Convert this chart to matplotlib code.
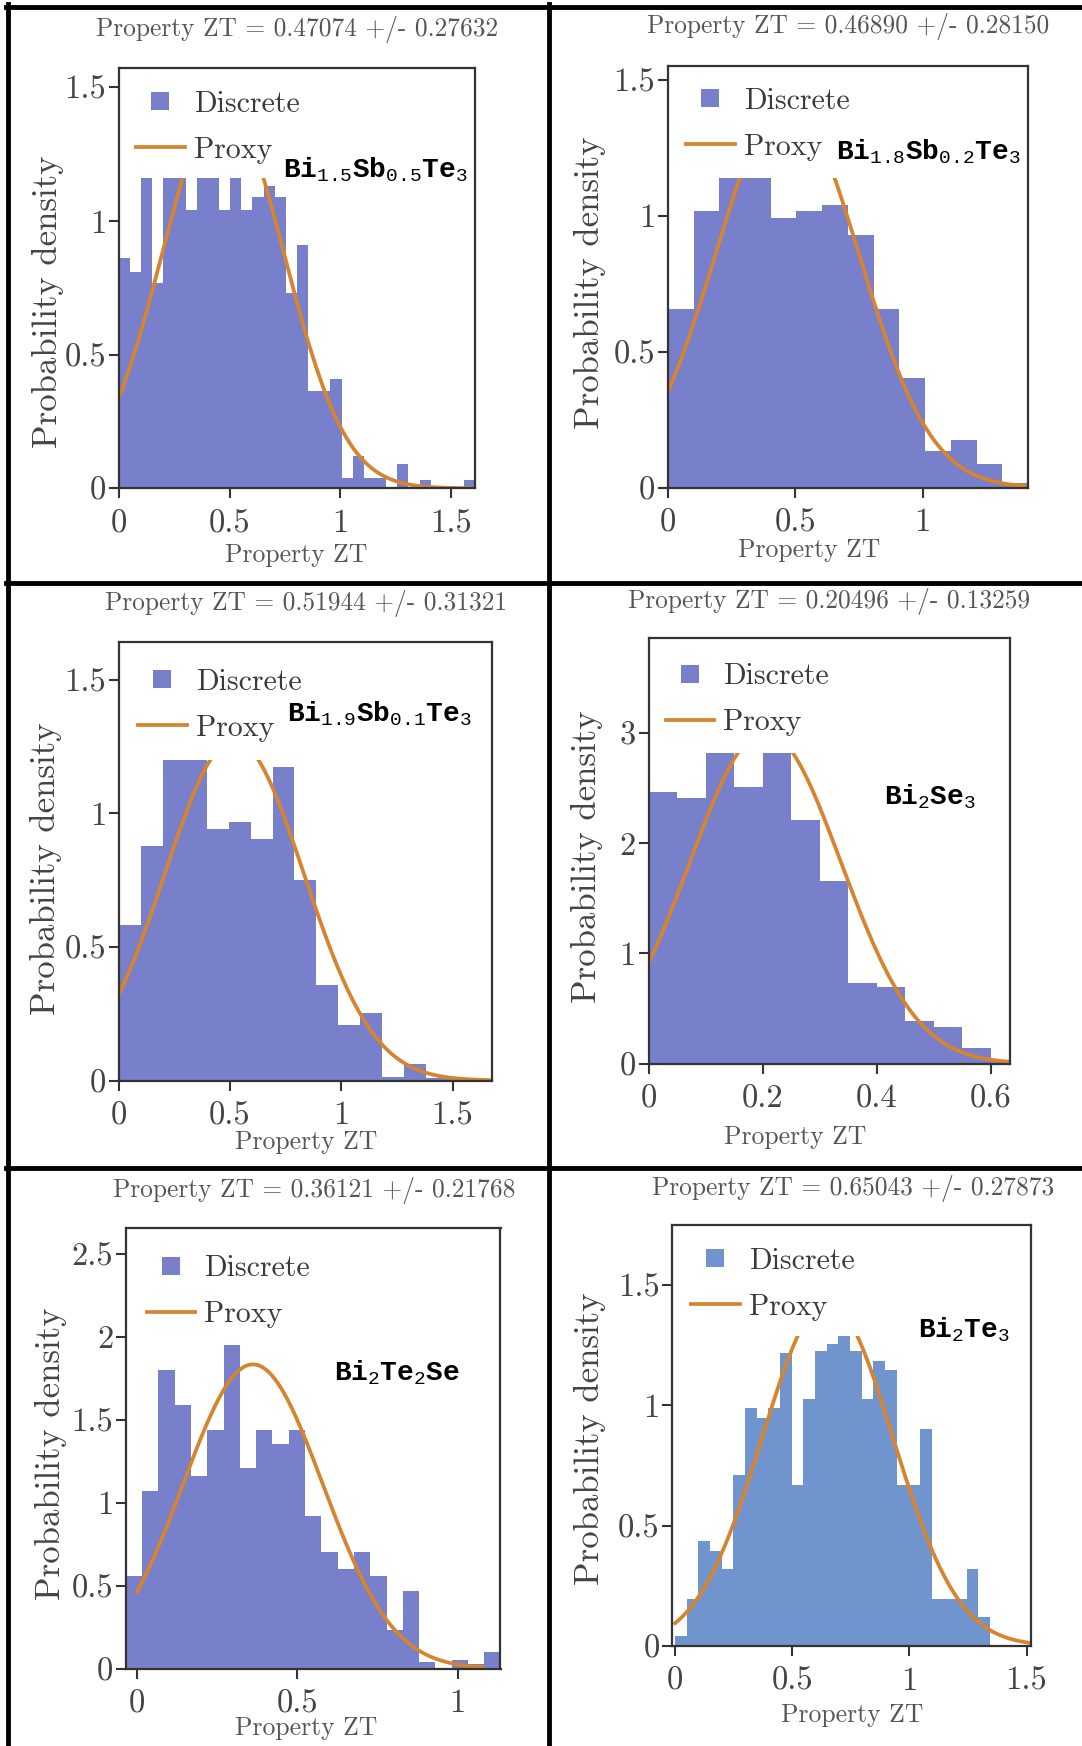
import numpy as np
import matplotlib
matplotlib.use("Agg")
import matplotlib.pyplot as plt
from matplotlib.lines import Line2D

plt.rcParams['font.family'] = ['cmr10', 'DejaVu Serif']
plt.rcParams['mathtext.fontset'] = 'custom'
plt.rcParams['mathtext.rm'] = 'Liberation Mono'
plt.rcParams['mathtext.it'] = 'Liberation Mono'
plt.rcParams['mathtext.bf'] = 'Liberation Mono:bold'
plt.rcParams['axes.unicode_minus'] = False

# ---------------- data ----------------
formulas = [
    r'$\mathbf{Bi}_{\mathrm{1.5}}\mathbf{Sb}_{\mathrm{0.5}}\mathbf{Te}_{\mathrm{3}}$',
    r'$\mathbf{Bi}_{\mathrm{1.8}}\mathbf{Sb}_{\mathrm{0.2}}\mathbf{Te}_{\mathrm{3}}$',
    r'$\mathbf{Bi}_{\mathrm{1.9}}\mathbf{Sb}_{\mathrm{0.1}}\mathbf{Te}_{\mathrm{3}}$',
    r'$\mathbf{Bi}_{\mathrm{2}}\mathbf{Se}_{\mathrm{3}}$',
    r'$\mathbf{Bi}_{\mathrm{2}}\mathbf{Te}_{\mathrm{2}}\mathbf{Se}$',
    r'$\mathbf{Bi}_{\mathrm{2}}\mathbf{Te}_{\mathrm{3}}$',
]
means = [0.47074, 0.46890, 0.51944, 0.20496, 0.36121, 0.65043]
stds = [0.27632, 0.28150, 0.31321, 0.13259, 0.21768, 0.27873]

bin_start = [0.0, 0.0, 0.0, 0.0, -0.035, 0.0]
bin_width = [0.0503, 0.101, 0.0987, 0.05, 0.0508, 0.0498]

hist1 = [0.86, 0.81, 1.25, 0.77, 1.25, 1.25, 1.04, 1.25, 1.25, 1.04, 1.25, 1.04,
         1.09, 1.13, 1.09, 0.73, 0.91, 0.365, 0.365, 0.41, 0.04, 0.12, 0.04, 0.04,
         0.0, 0.09, 0.0, 0.03, 0.0, 0.0, 0.0, 0.03]
hist2 = [0.657, 1.018, 1.25, 1.25, 0.991, 1.018, 1.041, 0.929, 0.656, 0.402,
         0.133, 0.174, 0.085, 0.016]
hist3 = [0.583, 0.879, 1.30, 1.30, 0.943, 0.967, 0.903, 1.173, 0.752, 0.357,
         0.209, 0.251, 0.014, 0.063, 0.008, 0.006, 0.004]
hist4 = [2.46, 2.41, 2.95, 2.51, 2.95, 2.21, 1.66, 0.735, 0.69, 0.39, 0.33,
         0.144, 0.024]
hist5 = [0.56, 1.07, 1.80, 1.59, 1.16, 1.44, 1.95, 1.21, 1.44, 1.35, 1.44, 0.92,
         0.70, 0.60, 0.70, 0.56, 0.23, 0.47, 0.04, 0.0, 0.05, 0.03, 0.10]
hist6 = [0.042, 0.196, 0.437, 0.396, 0.319, 0.711, 0.989, 0.946, 0.989, 1.22,
         0.668, 1.027, 1.228, 1.258, 1.30, 1.228, 1.027, 1.186, 1.146, 0.668,
         0.668, 0.904, 0.196, 0.196, 0.196, 0.319, 0.119]
hists = [hist1, hist2, hist3, hist4, hist5, hist6]

curve_x_range = [(0, 1.61), (0, 1.415), (0, 1.678), (0, 0.633), (0, 1.08), (0, 1.51)]
xlims = [(0, 1.61), (0, 1.415), (0, 1.678), (0, 0.633), (-0.035, 1.133), (-0.012, 1.519)]
ylims = [(0, 1.574), (0, 1.553), (0, 1.641), (0, 3.856), (0, 2.656), (0, 1.751)]
xticks = [[0, 0.5, 1, 1.5], [0, 0.5, 1], [0, 0.5, 1, 1.5], [0, 0.2, 0.4, 0.6],
          [0, 0.5, 1], [0, 0.5, 1, 1.5]]
xticklabels = [['0', '0.5', '1', '1.5'], ['0', '0.5', '1'], ['0', '0.5', '1', '1.5'],
               ['0', '0.2', '0.4', '0.6'], ['0', '0.5', '1'], ['0', '0.5', '1', '1.5']]
yticks = [[0, 0.5, 1, 1.5], [0, 0.5, 1, 1.5], [0, 0.5, 1, 1.5], [0, 1, 2, 3],
          [0, 0.5, 1, 1.5, 2, 2.5], [0, 0.5, 1, 1.5]]
yticklabels = [['0', '0.5', '1', '1.5'], ['0', '0.5', '1', '1.5'], ['0', '0.5', '1', '1.5'],
               ['0', '1', '2', '3'], ['0', '0.5', '1', '1.5', '2', '2.5'],
               ['0', '0.5', '1', '1.5']]
# level above which the opaque legend area hides the plot
legend_cover = [1.16, 1.14, 1.20, 2.82, None, 1.29]

# ---------------- layout (pixels) ----------------
W, H = 1082, 1746
axes_px = [(118.8, 67.7, 475.3, 488.3), (667.9, 65.8, 1028.2, 487.5),
           (118.8, 642.1, 492.1, 1080.5), (648.5, 638.3, 1009.5, 1063.6),
           (125.8, 1227.7, 500.5, 1668.6), (672.3, 1225.1, 1031.0, 1645.7)]
title_px = [(297, 29.6), (848.4, 26), (305.8, 603.5), (829, 601.5), (314.6, 1190), (852.8, 1188)]
ylabel_px = [(47.5, 301.5), (590, 283), (46, 868.6), (587, 856.6), (51, 1453.7), (590, 1438.9)]
xlabel_px = [(296, 555), (809, 550), (305.8, 1142.6), (795, 1137), (305.8, 1728.3), (851.8, 1715.4)]
legend_px = [(136, 127), (686, 124), (138, 705), (665.5, 699.5), (146.8, 1291.5), (691, 1284)]
formula_px = [(283, 170), (835.8, 151.7), (286.6, 713.6), (883.5, 796.4), (333.8, 1372.6), (917.6, 1330.2)]

bar_colors = ['#7880CB'] * 5 + ['#7095CE']
curve_color = '#D6842F'
spine_color = '#333333'

fig = plt.figure(figsize=(W / 100, H / 100), dpi=100)
fig.patch.set_facecolor('white')

def fx(x):
    return x / W

def fy(y):
    return 1 - y / H

for i in range(6):
    L, T, R, B = axes_px[i]
    ax = fig.add_axes([fx(L), fy(B), (R - L) / W, (B - T) / H])
    h = np.array(hists[i])
    edges = bin_start[i] + bin_width[i] * np.arange(len(h) + 1)
    ax.stairs(h, edges, fill=True, color=bar_colors[i], linewidth=0, zorder=1)
    xs = np.linspace(curve_x_range[i][0], curve_x_range[i][1], 400)
    ys = np.exp(-0.5 * ((xs - means[i]) / stds[i]) ** 2) / (stds[i] * np.sqrt(2 * np.pi))
    ax.plot(xs, ys, color=curve_color, lw=2.7, zorder=2)
    if legend_cover[i] is not None:
        ax.axhspan(legend_cover[i], ylims[i][1], color='white', lw=0, zorder=2.2)
    ax.set_xlim(*xlims[i])
    ax.set_ylim(*ylims[i])
    ax.set_xticks(xticks[i])
    ax.set_xticklabels(xticklabels[i])
    ax.set_yticks(yticks[i])
    ax.set_yticklabels(yticklabels[i])
    ax.tick_params(direction='out', length=7, width=1.5, color=spine_color,
                   labelsize=23.5, labelcolor='#444444')
    ax.tick_params(axis='x', pad=8)
    ax.tick_params(axis='y', pad=2)
    for sp in ax.spines.values():
        sp.set_color(spine_color)
        sp.set_linewidth(1.6)
        sp.set_zorder(3)

    fig.text(fx(title_px[i][0]), fy(title_px[i][1]),
             'Property ZT = %.5f +/- %.5f' % (means[i], stds[i]),
             ha='center', va='center', fontsize=18.3, color='#555555')
    fig.text(fx(ylabel_px[i][0]), fy(ylabel_px[i][1]), 'Probability density',
             rotation=90, ha='center', va='center', fontsize=25, color='#444444')
    fig.text(fx(xlabel_px[i][0]), fy(xlabel_px[i][1]), 'Property ZT',
             ha='center', va='center', fontsize=18.5, color='#555555')
    fig.text(fx(formula_px[i][0]), fy(formula_px[i][1]), formulas[i],
             ha='left', va='center', fontsize=20, color='black', zorder=6)

    handles = [Line2D([], [], marker='s', ls='none', markersize=13,
                      markerfacecolor=bar_colors[i], markeredgewidth=0),
               Line2D([], [], color=curve_color, lw=2.7)]
    leg = ax.legend(handles, ['Discrete', 'Proxy'], loc='center left',
                    bbox_to_anchor=(fx(legend_px[i][0]), fy(legend_px[i][1])),
                    bbox_transform=fig.transFigure, frameon=False, borderpad=0,
                    borderaxespad=0, handlelength=1.63, handletextpad=0.3,
                    labelspacing=0.62, fontsize=21.5, numpoints=1)
    for t in leg.get_texts():
        t.set_color('#3a3a3a')
    leg.set_zorder(5)

# panel borders
bw = 3.5
fig.add_artist(Line2D([fx(7.5), fx(7.5)], [fy(4), fy(H)], color='black', lw=bw))
fig.add_artist(Line2D([fx(5.5), fx(W)], [fy(6.5), fy(6.5)], color='black', lw=bw))
fig.add_artist(Line2D([fx(548.5), fx(548.5)], [fy(4), fy(H)], color='black', lw=bw))
fig.add_artist(Line2D([fx(5.5), fx(W)], [fy(583), fy(583)], color='black', lw=bw))
fig.add_artist(Line2D([fx(5.5), fx(W)], [fy(1168), fy(1168)], color='black', lw=bw))

fig.savefig('out.png', dpi=100, facecolor='white')
